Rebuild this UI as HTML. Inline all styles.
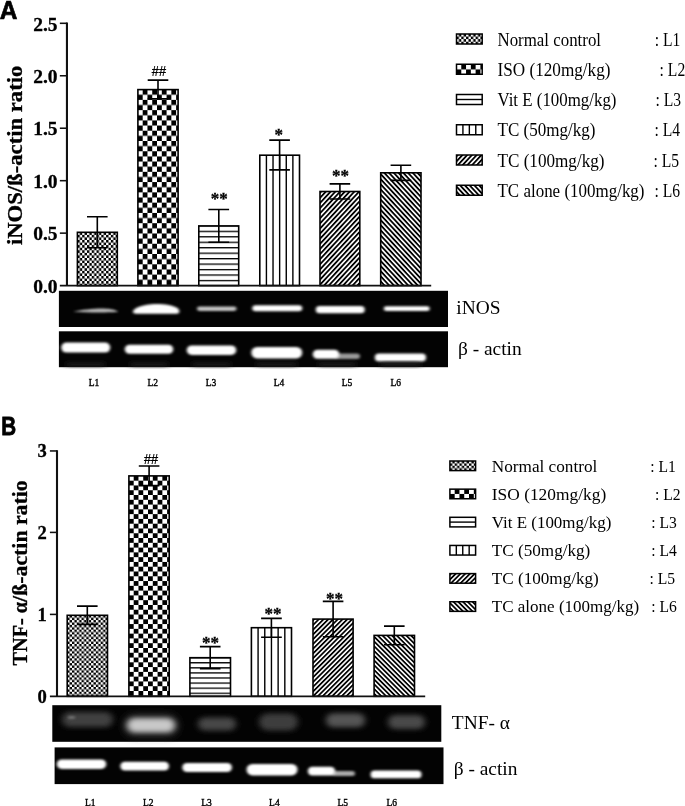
<!DOCTYPE html>
<html lang="en"><head><meta charset="utf-8"><title>Figure</title>
<style>
html,body{margin:0;padding:0;background:#fff;}
body{width:685px;height:806px;overflow:hidden;}
svg{display:block;}
text{fill:#000;}
.ser{font-family:"Liberation Serif",serif;}
.serb{font-family:"Liberation Serif",serif;font-weight:bold;}
.san{font-family:"Liberation Sans",sans-serif;}
.sanb{font-family:"Liberation Sans",sans-serif;font-weight:bold;}
</style></head><body>
<svg width="685" height="806" viewBox="0 0 685 806">
<defs>
<pattern id="pFineA" width="4.780" height="5.138" patternUnits="userSpaceOnUse">
<rect width="4.780" height="5.138" fill="#fff"/><rect x="2.390" y="0" width="2.390" height="2.569" fill="#000"/><rect x="0" y="2.569" width="2.390" height="2.569" fill="#000"/>
</pattern>
<pattern id="pChkA" width="9.560" height="10.277" patternUnits="userSpaceOnUse">
<rect width="9.560" height="10.277" fill="#fff"/><rect x="4.780" y="0" width="4.780" height="5.138" fill="#000"/><rect x="0" y="5.138" width="4.780" height="5.138" fill="#000"/>
</pattern>
<pattern id="pHorA" x="0" y="-0.65" width="5.461" height="5.461" patternUnits="userSpaceOnUse">
<rect width="5.461" height="5.461" fill="#fff"/><rect x="0" y="0" width="5.461" height="1.3" fill="#000"/>
</pattern>
<pattern id="pFwdA" width="3.36" height="3.36" patternUnits="userSpaceOnUse" patternTransform="scale(1 1.075) rotate(-45)">
<rect width="3.36" height="3.36" fill="#fff"/><rect x="0" y="0" width="3.36" height="1.75" fill="#000"/>
</pattern>
<pattern id="pBwdA" width="3.36" height="3.36" patternUnits="userSpaceOnUse" patternTransform="scale(1 1.075) rotate(45)">
<rect width="3.36" height="3.36" fill="#fff"/><rect x="0" y="0" width="3.36" height="1.75" fill="#000"/>
</pattern>
<pattern id="pFineB" width="4.780" height="4.780" patternUnits="userSpaceOnUse">
<rect width="4.780" height="4.780" fill="#fff"/><rect x="2.390" y="0" width="2.390" height="2.390" fill="#000"/><rect x="0" y="2.390" width="2.390" height="2.390" fill="#000"/>
</pattern>
<pattern id="pChkB" width="9.560" height="9.560" patternUnits="userSpaceOnUse">
<rect width="9.560" height="9.560" fill="#fff"/><rect x="4.780" y="0" width="4.780" height="4.780" fill="#000"/><rect x="0" y="4.780" width="4.780" height="4.780" fill="#000"/>
</pattern>
<pattern id="pHorB" x="0" y="-0.65" width="5.080" height="5.080" patternUnits="userSpaceOnUse">
<rect width="5.080" height="5.080" fill="#fff"/><rect x="0" y="0" width="5.080" height="1.3" fill="#000"/>
</pattern>
<pattern id="pFwdB" width="3.36" height="3.36" patternUnits="userSpaceOnUse" patternTransform="scale(1 1.0) rotate(-45)">
<rect width="3.36" height="3.36" fill="#fff"/><rect x="0" y="0" width="3.36" height="1.75" fill="#000"/>
</pattern>
<pattern id="pBwdB" width="3.36" height="3.36" patternUnits="userSpaceOnUse" patternTransform="scale(1 1.0) rotate(45)">
<rect width="3.36" height="3.36" fill="#fff"/><rect x="0" y="0" width="3.36" height="1.75" fill="#000"/>
</pattern>
<filter id="b0" x="-20%" y="-100%" width="140%" height="300%"><feGaussianBlur stdDeviation="1.1 0.8"/></filter>
<filter id="b1" x="-20%" y="-100%" width="140%" height="300%"><feGaussianBlur stdDeviation="1.6 1.3"/></filter>
<filter id="b2" x="-20%" y="-100%" width="140%" height="300%"><feGaussianBlur stdDeviation="3 2.5"/></filter>
<filter id="b3" x="-30%" y="-100%" width="160%" height="300%"><feGaussianBlur stdDeviation="4.5 4"/></filter>
</defs>
<rect width="685" height="806" fill="#fff"/>

<g transform="translate(77.40 232.30)"><rect x="0" y="0" width="39.90" height="53.30" fill="url(#pFineA)" stroke="#000" stroke-width="1.6"/></g>
<path d="M87.0 216.8H107.6M97.3 216.8V247.8M87.0 247.8H107.6" stroke="#000" stroke-width="1.6" fill="none"/>
<g transform="translate(137.90 89.60)"><rect x="0" y="0" width="40.20" height="196.00" fill="url(#pChkA)" stroke="#000" stroke-width="1.6"/></g>
<path d="M147.7 80.1H168.3M158.0 80.1V98.9M147.7 98.9H168.3" stroke="#000" stroke-width="1.6" fill="none"/>
<g transform="translate(198.80 225.90)"><rect x="0" y="0" width="39.90" height="59.70" fill="url(#pHorA)" stroke="#000" stroke-width="1.6"/></g>
<path d="M208.4 209.5H229.1M218.8 209.5V242.3M208.4 242.3H229.1" stroke="#000" stroke-width="1.6" fill="none"/>
<g transform="translate(259.80 155.20)"><rect x="0" y="0" width="39.70" height="130.40" fill="#fff" stroke="#000" stroke-width="1.6"/></g>
<path d="M266.42 155.2V285.6M273.03 155.2V285.6M279.65 155.2V285.6M286.27 155.2V285.6M292.88 155.2V285.6" stroke="#000" stroke-width="1.4" fill="none"/>
<path d="M269.3 140.1H289.9M279.6 140.1V169.9M269.3 169.9H289.9" stroke="#000" stroke-width="1.6" fill="none"/>
<g transform="translate(320.00 191.50)"><rect x="0" y="0" width="39.80" height="94.10" fill="url(#pFwdA)" stroke="#000" stroke-width="1.6"/></g>
<path d="M329.6 183.9H350.2M339.9 183.9V199.0M329.6 199.0H350.2" stroke="#000" stroke-width="1.6" fill="none"/>
<g transform="translate(380.70 172.80)"><rect x="0" y="0" width="40.30" height="112.80" fill="url(#pBwdA)" stroke="#000" stroke-width="1.6"/></g>
<path d="M390.6 165.2H411.2M400.9 165.2V180.4M390.6 180.4H411.2" stroke="#000" stroke-width="1.6" fill="none"/>
<path d="M66.95 22.55V285.60" stroke="#111" stroke-width="2.1" fill="none"/>
<path d="M59.85 285.60H431.2" stroke="#111" stroke-width="1.7" fill="none"/>
<path d="M59.85 23.30H66.95" stroke="#111" stroke-width="1.55"/>
<text class="serb" x="57.5" y="30.50" font-size="19.5" text-anchor="end" stroke="#000" stroke-width="0.3">2.5</text>
<path d="M59.85 75.76H66.95" stroke="#111" stroke-width="1.55"/>
<text class="serb" x="57.5" y="82.96" font-size="19.5" text-anchor="end" stroke="#000" stroke-width="0.3">2.0</text>
<path d="M59.85 128.22H66.95" stroke="#111" stroke-width="1.55"/>
<text class="serb" x="57.5" y="135.42" font-size="19.5" text-anchor="end" stroke="#000" stroke-width="0.3">1.5</text>
<path d="M59.85 180.68H66.95" stroke="#111" stroke-width="1.55"/>
<text class="serb" x="57.5" y="187.88" font-size="19.5" text-anchor="end" stroke="#000" stroke-width="0.3">1.0</text>
<path d="M59.85 233.14H66.95" stroke="#111" stroke-width="1.55"/>
<text class="serb" x="57.5" y="240.34" font-size="19.5" text-anchor="end" stroke="#000" stroke-width="0.3">0.5</text>
<text class="serb" x="57.5" y="292.80" font-size="19.5" text-anchor="end" stroke="#000" stroke-width="0.3">0.0</text>
<text class="san" transform="translate(158.9 76.1) scale(0.91 1)" font-size="14" text-anchor="middle" stroke="#000" stroke-width="0.25">##</text>
<text class="serb" x="219.3" y="204.0" font-size="17" text-anchor="middle" stroke="#000" stroke-width="0.3">**</text>
<text class="serb" x="278.8" y="139.6" font-size="17" text-anchor="middle" stroke="#000" stroke-width="0.3">*</text>
<text class="serb" x="340.6" y="180.6" font-size="17" text-anchor="middle" stroke="#000" stroke-width="0.3">**</text>
<text class="serb" transform="translate(21.6 245.1) rotate(-90)" font-size="22" stroke="#000" stroke-width="0.3" textLength="179.5" lengthAdjust="spacingAndGlyphs">iNOS/ß-actin ratio</text>
<g transform="translate(67.20 615.30)"><rect x="0" y="0" width="40.30" height="81.00" fill="url(#pFineB)" stroke="#000" stroke-width="1.6"/></g>
<path d="M77.0 606.1H97.6M87.3 606.1V624.4M77.0 624.4H97.6" stroke="#000" stroke-width="1.6" fill="none"/>
<g transform="translate(128.90 475.90)"><rect x="0" y="0" width="40.30" height="220.40" fill="url(#pChkB)" stroke="#000" stroke-width="1.6"/></g>
<path d="M138.8 466.0H159.4M149.1 466.0V485.6M138.8 485.6H159.4" stroke="#000" stroke-width="1.6" fill="none"/>
<g transform="translate(189.90 657.70)"><rect x="0" y="0" width="40.60" height="38.60" fill="url(#pHorB)" stroke="#000" stroke-width="1.6"/></g>
<path d="M199.9 646.6H220.5M210.2 646.6V668.8M199.9 668.8H220.5" stroke="#000" stroke-width="1.6" fill="none"/>
<g transform="translate(251.40 627.70)"><rect x="0" y="0" width="40.10" height="68.60" fill="#fff" stroke="#000" stroke-width="1.6"/></g>
<path d="M258.08 627.7V696.3M264.77 627.7V696.3M271.45 627.7V696.3M278.13 627.7V696.3M284.82 627.7V696.3" stroke="#000" stroke-width="1.4" fill="none"/>
<path d="M261.1 618.4H281.8M271.4 618.4V637.3M261.1 637.3H281.8" stroke="#000" stroke-width="1.6" fill="none"/>
<g transform="translate(313.00 619.10)"><rect x="0" y="0" width="40.10" height="77.20" fill="url(#pFwdB)" stroke="#000" stroke-width="1.6"/></g>
<path d="M322.8 601.4H343.4M333.1 601.4V636.7M322.8 636.7H343.4" stroke="#000" stroke-width="1.6" fill="none"/>
<g transform="translate(374.10 635.40)"><rect x="0" y="0" width="40.40" height="60.90" fill="url(#pBwdB)" stroke="#000" stroke-width="1.6"/></g>
<path d="M384.0 626.1H404.6M394.3 626.1V644.8M384.0 644.8H404.6" stroke="#000" stroke-width="1.6" fill="none"/>
<path d="M57.00 450.20V696.30" stroke="#111" stroke-width="2.1" fill="none"/>
<path d="M49.90 696.30H425.2" stroke="#111" stroke-width="1.7" fill="none"/>
<path d="M49.90 450.95H57.00" stroke="#111" stroke-width="1.55"/>
<text class="serb" x="46.9" y="457.45" font-size="18.6" text-anchor="end" stroke="#000" stroke-width="0.3">3</text>
<path d="M49.90 532.40H57.00" stroke="#111" stroke-width="1.55"/>
<text class="serb" x="46.9" y="538.90" font-size="18.6" text-anchor="end" stroke="#000" stroke-width="0.3">2</text>
<path d="M49.90 614.40H57.00" stroke="#111" stroke-width="1.55"/>
<text class="serb" x="46.9" y="620.90" font-size="18.6" text-anchor="end" stroke="#000" stroke-width="0.3">1</text>
<text class="serb" x="46.9" y="702.80" font-size="18.6" text-anchor="end" stroke="#000" stroke-width="0.3">0</text>
<text class="san" transform="translate(151.1 463.9) scale(0.91 1)" font-size="14" text-anchor="middle" stroke="#000" stroke-width="0.25">##</text>
<text class="serb" x="210.5" y="648.2" font-size="17" text-anchor="middle" stroke="#000" stroke-width="0.3">**</text>
<text class="serb" x="273.0" y="619.2" font-size="17" text-anchor="middle" stroke="#000" stroke-width="0.3">**</text>
<text class="serb" x="334.6" y="604.0" font-size="17" text-anchor="middle" stroke="#000" stroke-width="0.3">**</text>
<text class="serb" transform="translate(27.0 665.4) rotate(-90)" font-size="22" stroke="#000" stroke-width="0.3" textLength="63.5" lengthAdjust="spacingAndGlyphs">TNF- α</text>
<text class="serb" transform="translate(27.0 601.9) rotate(-90)" font-size="22" stroke="#000" stroke-width="0.3" textLength="121.6" lengthAdjust="spacingAndGlyphs">/ß-actin ratio</text>
<text class="sanb" transform="translate(-0.2 18.6) scale(0.92 1)" font-size="26.6" stroke="#000" stroke-width="0.7">A</text>
<text class="sanb" transform="translate(1.2 435.2) scale(0.8 1)" font-size="25.8" stroke="#000" stroke-width="0.8">B</text>
<rect x="58.9" y="290.8" width="389.1" height="36.2" fill="#030303"/>
<path d="M73 311.6 C82 309.5,95 308.2,104 308.4 C111 308.6,116 310,118.5 311.8 C112 312.6,90 313,73 311.6Z" fill="#b8b8b8" filter="url(#b0)"/>
<path d="M133 311.8 C133 308.5,140 305.2,151 304.2 C161 303.3,172 304.8,177 307.8 C180.2 309.8,180 313.6,177 313.8 L136 313.8 C134 313.8,133 313,133 311.8Z" fill="#fff" filter="url(#b1)"/>
<rect x="197.0" y="306.6" width="39.5" height="4.3" rx="2.1" fill="#c4c4c4" opacity="1" filter="url(#b1)"/>
<rect x="252.3" y="305.2" width="49.9" height="6.0" rx="3.0" fill="#fff" opacity="1" filter="url(#b1)"/>
<rect x="315.8" y="306.1" width="48.9" height="7.2" rx="3.6" fill="#fff" opacity="1" filter="url(#b1)"/>
<rect x="383.8" y="306.3" width="45.9" height="4.8" rx="2.4" fill="#fff" opacity="1" filter="url(#b1)"/>
<rect x="58.9" y="331.3" width="389.1" height="35.9" fill="#030303"/>
<rect x="61.3" y="342.6" width="48.9" height="10.0" rx="5.0" fill="#fff" opacity="1" filter="url(#b1)"/>
<rect x="124.8" y="344.7" width="48.4" height="9.0" rx="4.5" fill="#fff" opacity="1" filter="url(#b1)"/>
<rect x="186.8" y="345.4" width="49.4" height="9.5" rx="4.8" fill="#fff" opacity="1" filter="url(#b1)"/>
<rect x="251.3" y="346.9" width="50.9" height="11.5" rx="5.8" fill="#fff" opacity="1" filter="url(#b1)"/>
<rect x="335.0" y="353.4" width="25.0" height="5.5" rx="2.8" fill="#999" opacity="1" filter="url(#b1)"/>
<rect x="312.8" y="349.7" width="26.4" height="9.0" rx="4.5" fill="#fff" opacity="1" filter="url(#b1)"/>
<rect x="374.8" y="353.5" width="51.2" height="8.0" rx="4.0" fill="#fff" opacity="1" filter="url(#b1)"/>
<rect x="66.0" y="363.0" width="39.0" height="3.0" rx="1.5" fill="#2a2a2a" opacity="1" filter="url(#b2)"/>
<rect x="130.0" y="363.0" width="38.0" height="3.0" rx="1.5" fill="#2a2a2a" opacity="1" filter="url(#b2)"/>
<rect x="192.0" y="363.0" width="39.0" height="3.0" rx="1.5" fill="#2a2a2a" opacity="1" filter="url(#b2)"/>
<rect x="256.0" y="363.0" width="41.0" height="3.0" rx="1.5" fill="#2a2a2a" opacity="1" filter="url(#b2)"/>
<rect x="318.0" y="363.0" width="38.0" height="3.0" rx="1.5" fill="#2a2a2a" opacity="1" filter="url(#b2)"/>
<rect x="380.0" y="363.0" width="41.0" height="3.0" rx="1.5" fill="#2a2a2a" opacity="1" filter="url(#b2)"/>
<rect x="52.3" y="705.2" width="389.0" height="36.6" fill="#030303"/>
<rect x="62.0" y="712.0" width="51.0" height="15.0" rx="7.5" fill="#404040" opacity="1" filter="url(#b2)"/>
<rect x="68.0" y="716.2" width="7.0" height="2.5" rx="1.2" fill="#777" opacity="1" filter="url(#b1)"/>
<rect x="124.0" y="715.5" width="54.0" height="20.0" rx="10.0" fill="#3a3a3a" opacity="1" filter="url(#b3)"/>
<rect x="127.5" y="718.3" width="47.0" height="14.0" rx="7.0" fill="#c8c8c8" opacity="1" filter="url(#b2)"/>
<rect x="198.0" y="717.5" width="38.0" height="13.0" rx="6.5" fill="#474747" opacity="1" filter="url(#b2)"/>
<rect x="259.0" y="713.5" width="39.0" height="17.0" rx="8.5" fill="#3c3c3c" opacity="1" filter="url(#b2)"/>
<rect x="326.0" y="713.3" width="39.0" height="14.0" rx="7.0" fill="#545454" opacity="1" filter="url(#b2)"/>
<rect x="388.0" y="715.0" width="37.0" height="14.0" rx="7.0" fill="#484848" opacity="1" filter="url(#b2)"/>
<rect x="54.6" y="747.4" width="388.9" height="36.7" fill="#030303"/>
<rect x="56.8" y="759.4" width="49.4" height="9.6" rx="4.8" fill="#fff" opacity="1" filter="url(#b1)"/>
<rect x="120.3" y="761.7" width="48.7" height="8.8" rx="4.4" fill="#fff" opacity="1" filter="url(#b1)"/>
<rect x="182.3" y="763.0" width="49.6" height="9.0" rx="4.5" fill="#fff" opacity="1" filter="url(#b1)"/>
<rect x="246.6" y="763.9" width="50.9" height="11.5" rx="5.8" fill="#fff" opacity="1" filter="url(#b1)"/>
<rect x="332.0" y="771.0" width="23.0" height="5.0" rx="2.5" fill="#aaa" opacity="1" filter="url(#b1)"/>
<rect x="307.8" y="766.7" width="27.4" height="8.8" rx="4.4" fill="#fff" opacity="1" filter="url(#b1)"/>
<rect x="370.6" y="770.5" width="50.9" height="7.8" rx="3.9" fill="#fff" opacity="1" filter="url(#b1)"/>
<text class="ser" x="456.3" y="313.9" font-size="19.4">iNOS</text>
<text class="ser" x="458" y="354.5" font-size="19.4">β - actin</text>
<text class="ser" x="451.8" y="729.3" font-size="19.4">TNF- α</text>
<text class="ser" x="453.7" y="775.4" font-size="19.4">β - actin</text>
<text class="ser" x="94" y="385.9" font-size="9.5" text-anchor="middle" stroke="#000" stroke-width="0.35">L1</text>
<text class="ser" x="152.7" y="385.9" font-size="9.5" text-anchor="middle" stroke="#000" stroke-width="0.35">L2</text>
<text class="ser" x="211" y="385.9" font-size="9.5" text-anchor="middle" stroke="#000" stroke-width="0.35">L3</text>
<text class="ser" x="279" y="385.9" font-size="9.5" text-anchor="middle" stroke="#000" stroke-width="0.35">L4</text>
<text class="ser" x="347" y="385.9" font-size="9.5" text-anchor="middle" stroke="#000" stroke-width="0.35">L5</text>
<text class="ser" x="395.7" y="385.9" font-size="9.5" text-anchor="middle" stroke="#000" stroke-width="0.35">L6</text>
<text class="ser" x="90.2" y="805.8" font-size="9.5" text-anchor="middle" stroke="#000" stroke-width="0.35">L1</text>
<text class="ser" x="148.2" y="805.8" font-size="9.5" text-anchor="middle" stroke="#000" stroke-width="0.35">L2</text>
<text class="ser" x="206.6" y="805.8" font-size="9.5" text-anchor="middle" stroke="#000" stroke-width="0.35">L3</text>
<text class="ser" x="274.4" y="805.8" font-size="9.5" text-anchor="middle" stroke="#000" stroke-width="0.35">L4</text>
<text class="ser" x="342.8" y="805.8" font-size="9.5" text-anchor="middle" stroke="#000" stroke-width="0.35">L5</text>
<text class="ser" x="391.7" y="805.8" font-size="9.5" text-anchor="middle" stroke="#000" stroke-width="0.35">L6</text>
<g transform="translate(456.50 34.00)"><rect width="25.7" height="10.0" fill="url(#pFineA)" stroke="#000" stroke-width="1.5"/></g>
<text class="ser" x="497.5" y="45.7" font-size="18.5" textLength="103.5" lengthAdjust="spacingAndGlyphs">Normal control</text>
<text class="ser" x="654.8" y="45.7" font-size="18.5" textLength="25.6" lengthAdjust="spacingAndGlyphs">: L1</text>
<g transform="translate(456.50 64.25)"><rect width="25.7" height="10.0" fill="url(#pChkA)" stroke="#000" stroke-width="1.5"/></g>
<text class="ser" x="497.5" y="76.0" font-size="18.5" textLength="113" lengthAdjust="spacingAndGlyphs">ISO (120mg/kg)</text>
<text class="ser" x="659.6" y="76.0" font-size="18.5" textLength="25.6" lengthAdjust="spacingAndGlyphs">: L2</text>
<g transform="translate(456.50 94.50)"><rect width="25.7" height="10.0" fill="#fff" stroke="#000" stroke-width="1.5"/><path d="M0 5.0H25.7" stroke="#000" stroke-width="1.4"/></g>
<text class="ser" x="497.5" y="106.2" font-size="18.5" textLength="119" lengthAdjust="spacingAndGlyphs">Vit E (100mg/kg)</text>
<text class="ser" x="655.5" y="106.2" font-size="18.5" textLength="25.6" lengthAdjust="spacingAndGlyphs">: L3</text>
<g transform="translate(456.50 124.75)"><rect width="25.7" height="10.0" fill="#fff" stroke="#000" stroke-width="1.5"/><path d="M6.42 0V10.0M12.85 0V10.0M19.27 0V10.0" stroke="#000" stroke-width="1.4"/></g>
<text class="ser" x="497.5" y="136.4" font-size="18.5" textLength="98" lengthAdjust="spacingAndGlyphs">TC (50mg/kg)</text>
<text class="ser" x="654.5" y="136.4" font-size="18.5" textLength="25.6" lengthAdjust="spacingAndGlyphs">: L4</text>
<g transform="translate(456.50 155.00)"><rect width="25.7" height="10.0" fill="url(#pFwdA)" stroke="#000" stroke-width="1.5"/></g>
<text class="ser" x="497.5" y="166.7" font-size="18.5" textLength="107" lengthAdjust="spacingAndGlyphs">TC (100mg/kg)</text>
<text class="ser" x="653.5" y="166.7" font-size="18.5" textLength="25.6" lengthAdjust="spacingAndGlyphs">: L5</text>
<g transform="translate(456.50 185.25)"><rect width="25.7" height="10.0" fill="url(#pBwdA)" stroke="#000" stroke-width="1.5"/></g>
<text class="ser" x="497.5" y="196.9" font-size="18.5" textLength="147" lengthAdjust="spacingAndGlyphs">TC alone (100mg/kg)</text>
<text class="ser" x="654.5" y="196.9" font-size="18.5" textLength="25.6" lengthAdjust="spacingAndGlyphs">: L6</text>
<g transform="translate(449.90 461.00)"><rect width="25.7" height="9.6" fill="url(#pFineB)" stroke="#000" stroke-width="1.5"/></g>
<text class="ser" x="491.8" y="471.5" font-size="17.2" textLength="105.5" lengthAdjust="spacingAndGlyphs">Normal control</text>
<text class="ser" x="650.2" y="471.5" font-size="17.2" textLength="25.6" lengthAdjust="spacingAndGlyphs">: L1</text>
<g transform="translate(449.90 489.15)"><rect width="25.7" height="9.6" fill="url(#pChkB)" stroke="#000" stroke-width="1.5"/></g>
<text class="ser" x="491.8" y="499.6" font-size="17.2" textLength="114.4" lengthAdjust="spacingAndGlyphs">ISO (120mg/kg)</text>
<text class="ser" x="654.9" y="499.6" font-size="17.2" textLength="25.6" lengthAdjust="spacingAndGlyphs">: L2</text>
<g transform="translate(449.90 517.30)"><rect width="25.7" height="9.6" fill="#fff" stroke="#000" stroke-width="1.5"/><path d="M0 4.8H25.7" stroke="#000" stroke-width="1.4"/></g>
<text class="ser" x="491.8" y="527.8" font-size="17.2" textLength="119.5" lengthAdjust="spacingAndGlyphs">Vit E (100mg/kg)</text>
<text class="ser" x="651.3" y="527.8" font-size="17.2" textLength="25.6" lengthAdjust="spacingAndGlyphs">: L3</text>
<g transform="translate(449.90 545.45)"><rect width="25.7" height="9.6" fill="#fff" stroke="#000" stroke-width="1.5"/><path d="M6.42 0V9.6M12.85 0V9.6M19.27 0V9.6" stroke="#000" stroke-width="1.4"/></g>
<text class="ser" x="491.8" y="556.0" font-size="17.2" textLength="98.5" lengthAdjust="spacingAndGlyphs">TC (50mg/kg)</text>
<text class="ser" x="651.3" y="556.0" font-size="17.2" textLength="25.6" lengthAdjust="spacingAndGlyphs">: L4</text>
<g transform="translate(449.90 573.60)"><rect width="25.7" height="9.6" fill="url(#pFwdB)" stroke="#000" stroke-width="1.5"/></g>
<text class="ser" x="491.8" y="584.1" font-size="17.2" textLength="107" lengthAdjust="spacingAndGlyphs">TC (100mg/kg)</text>
<text class="ser" x="649.5" y="584.1" font-size="17.2" textLength="25.6" lengthAdjust="spacingAndGlyphs">: L5</text>
<g transform="translate(449.90 601.75)"><rect width="25.7" height="9.6" fill="url(#pBwdB)" stroke="#000" stroke-width="1.5"/></g>
<text class="ser" x="491.8" y="612.2" font-size="17.2" textLength="147.5" lengthAdjust="spacingAndGlyphs">TC alone (100mg/kg)</text>
<text class="ser" x="651.3" y="612.2" font-size="17.2" textLength="25.6" lengthAdjust="spacingAndGlyphs">: L6</text>
</svg></body></html>
